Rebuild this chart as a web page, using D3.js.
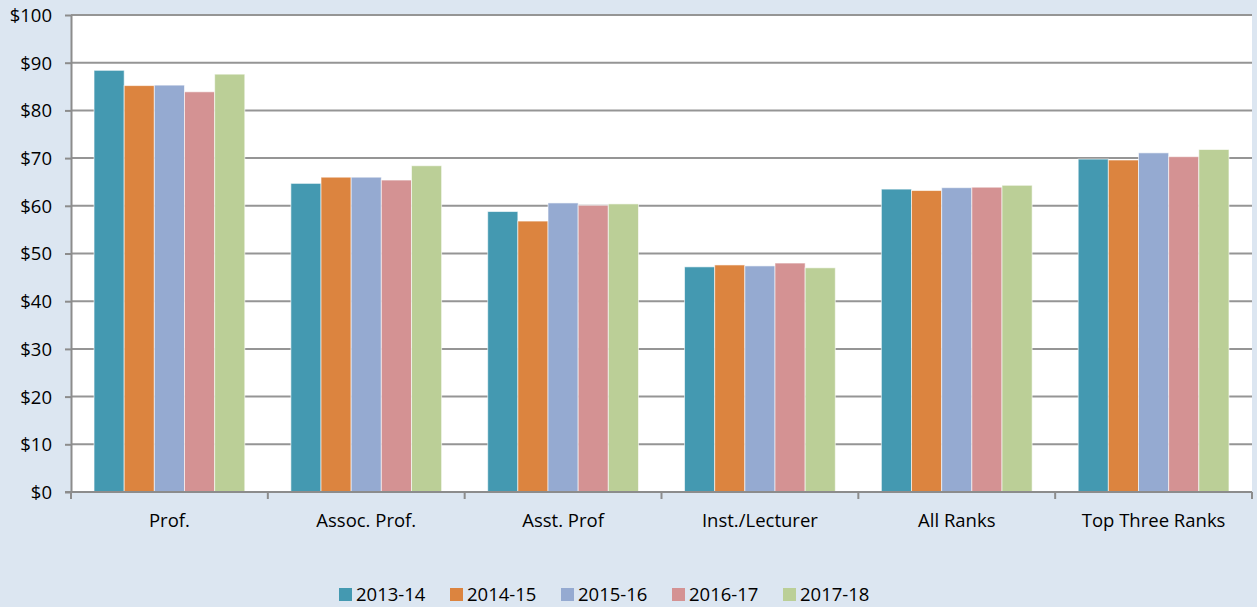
<!DOCTYPE html>
<html>
<head>
  <meta charset="utf-8">
  <title>Salary by rank</title>
  <style>
    body { margin: 0; background: #dce6f1; }
    svg { display: block; font-family: "Open Sans", "Liberation Sans", sans-serif; }
    .grid line { stroke: #959595; stroke-width: 2px; }
    .axis path, .axis line { stroke: #8c8c8c; stroke-width: 2px; }
    .axis text { fill: #000; font-size: 18.5px; font-family: "Open Sans", "Liberation Sans", sans-serif; }
    .legend text { font-size: 18.5px; fill: #000; }
  </style>
</head>
<body>
  <svg id="chart"></svg>

  <script src="https://d3js.org/d3.v7.min.js"></script>
  <script>
    // 类别、系列和数值
    const ranks = ["Prof.", "Assoc. Prof.", "Asst. Prof", "Inst./Lecturer", "All Ranks", "Top Three Ranks"];
    const years = ["2013-14", "2014-15", "2015-16", "2016-17", "2017-18"];
    const colors = ["#4499b1", "#dc843f", "#95aad1", "#d49293", "#bbcf97"];

    const v2013 = [88.4, 64.7, 58.8, 47.2, 63.5, 69.8];
    const v2014 = [85.2, 66.0, 56.8, 47.6, 63.2, 69.6];
    const v2015 = [85.3, 66.0, 60.6, 47.4, 63.8, 71.1];
    const v2016 = [83.9, 65.4, 60.1, 48.0, 63.9, 70.3];
    const v2017 = [87.6, 68.4, 60.4, 47.0, 64.3, 71.8];
    const series = [v2013, v2014, v2015, v2016, v2017];

    const yTicks = [0, 10, 20, 30, 40, 50, 60, 70, 80, 90, 100];

    const W = 1257, H = 607;
    const margin = { left: 71, right: 5, top: 15, bottom: 115 };

    const svg = d3.select("#chart").attr("width", W).attr("height", H);

    const x0 = d3.scaleBand()
      .domain(ranks)
      .range([margin.left, W - margin.right])
      .paddingInner(0.234)
      .paddingOuter(0.117);

    const x1 = d3.scaleBand()
      .domain(years)
      .range([0, x0.bandwidth()]);

    const y = d3.scaleLinear()
      .domain([0, 100])
      .range([H - margin.bottom, margin.top]);

    // 绘图区白底
    svg.append("rect")
      .attr("x", margin.left)
      .attr("y", margin.top)
      .attr("width", W - margin.right - margin.left)
      .attr("height", y(0) - margin.top)
      .attr("fill", "#fff");

    // 网格线
    svg.append("g")
      .attr("class", "grid")
      .selectAll("line")
      .data(yTicks.slice(1))
      .enter()
      .append("line")
      .attr("x1", margin.left)
      .attr("x2", W - margin.right)
      .attr("y1", d => y(d))
      .attr("y2", d => y(d));

    // 柱子
    const group = svg.append("g")
      .selectAll("g")
      .data(ranks)
      .enter()
      .append("g")
      .attr("transform", d => `translate(${x0(d)},0)`);

    group.selectAll("rect")
      .data((d, i) => years.map((yr, j) => ({ yr, j, v: series[j][i] })))
      .enter()
      .append("rect")
      .attr("x", d => x1(d.yr))
      .attr("width", x1.bandwidth())
      .attr("y", d => y(d.v))
      .attr("height", d => y(0) - y(d.v))
      .attr("fill", d => colors[d.j])
      .attr("stroke", "rgba(255,255,255,0.6)")
      .attr("stroke-width", 1);

    // y 轴
    const yAxis = svg.append("g")
      .attr("class", "axis")
      .attr("transform", `translate(${margin.left},0)`)
      .call(d3.axisLeft(y).tickValues(yTicks).tickSize(6).tickSizeOuter(0).tickPadding(13).tickFormat(d => "$" + d));
    yAxis.attr("font-family", null).attr("font-size", null);
    yAxis.selectAll("text").attr("dy", "0.35em");

    // x 轴
    const xAxis = svg.append("g")
      .attr("class", "axis")
      .attr("transform", `translate(0,${y(0)})`);

    xAxis.append("line")
      .attr("x1", margin.left - 6)
      .attr("x2", W - margin.right)
      .attr("y1", 0)
      .attr("y2", 0);

    const bounds = d3.range(ranks.length + 1).map(i => margin.left + i * (W - margin.right - margin.left) / ranks.length);
    xAxis.selectAll(".tk")
      .data(bounds)
      .enter()
      .append("line")
      .attr("x1", d => d)
      .attr("x2", d => d)
      .attr("y1", 0)
      .attr("y2", 7);

    xAxis.selectAll(".lbl")
      .data(ranks)
      .enter()
      .append("text")
      .attr("x", d => x0(d) + x0.bandwidth() / 2)
      .attr("y", 35)
      .attr("text-anchor", "middle")
      .text(d => d);

    // 图例
    const legend = svg.append("g").attr("class", "legend");
    const item = legend.selectAll("g")
      .data(years)
      .enter()
      .append("g")
      .attr("transform", (d, i) => `translate(${339 + i * 111},588)`);

    item.append("rect")
      .attr("width", 13)
      .attr("height", 13)
      .attr("fill", (d, i) => colors[i]);

    item.append("text")
      .attr("x", 17)
      .attr("y", 13)
      .text(d => d);
  </script>
</body>
</html>
